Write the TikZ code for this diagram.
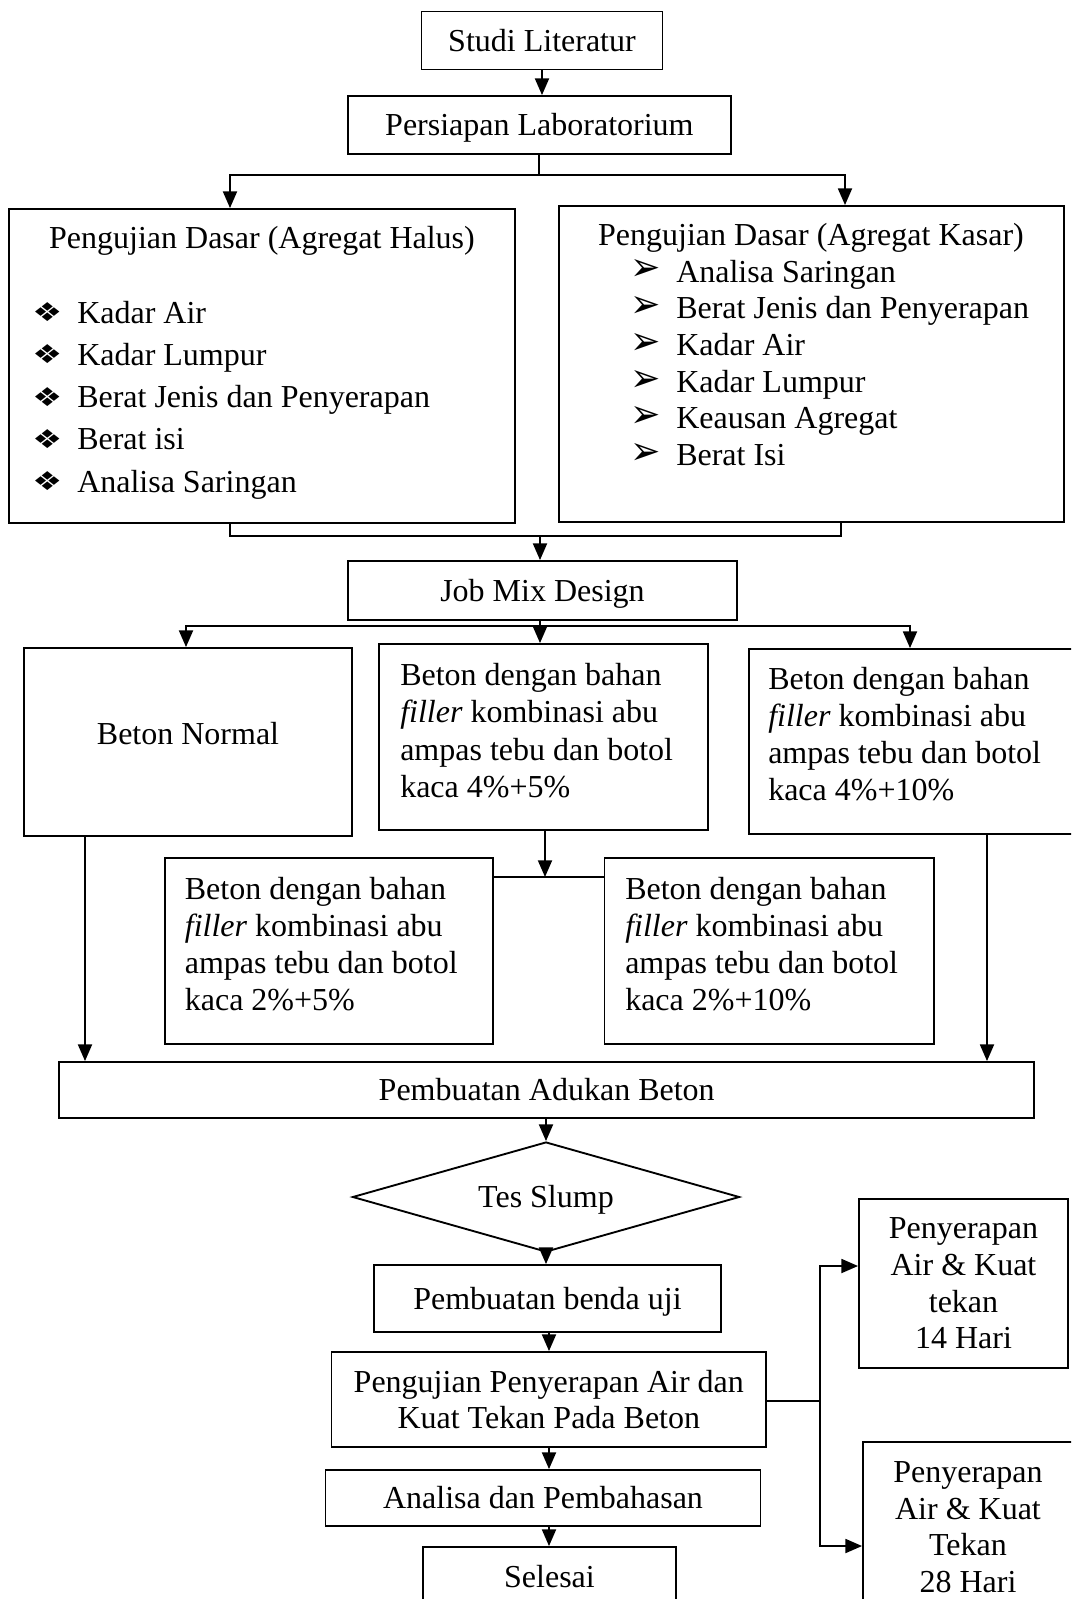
\documentclass[tikz,border=0pt]{standalone}
\usepackage{fontspec}
\setmainfont{Liberation Serif}
\newfontfamily\dejavu{DejaVu Sans}
\usetikzlibrary{shapes.geometric,arrows.meta,calc}
\setlength\lineskiplimit{-30pt}
\newcommand\bulA{\makebox[33.75pt][l]{\raisebox{1pt}{\scalebox{1}[0.78]{\dejavu\fontsize{25}{25}\selectfont ❖}}}}
\newcommand\bulB{\makebox[34.5pt][l]{\raisebox{0.8pt}{\scalebox{1.7}[1.85]{\dejavu\fontsize{16}{16}\selectfont ➢}}}}
\begin{document}
\begin{tikzpicture}[x=0.75pt,y=-0.75pt,
  every node/.style={font=\fontsize{24}{27.75}\selectfont, inner sep=0pt},
  bx/.style={draw, line width=1.4pt, rectangle, align=center},
  one/.style={text height=15.84pt, text depth=0pt},
  sz/.style 2 args={minimum width=#1*0.75pt, minimum height=#2*0.75pt},
  arr/.style={line width=1.4pt, -{Triangle[length=12.5pt,width=10.5pt]}},
  ln/.style={line width=1.4pt},
  multi/.style={align=left, anchor=west, font=\fontsize{24}{27.9}\selectfont}
]
\useasboundingbox (0,0) rectangle (1071,1599);
\clip (0,0) rectangle (1071,1599);

% top
\node[bx, one, sz={241}{58}] (studi) at (542,40.5) {Studi Literatur};
\node[bx, one, sz={383}{58}] (persiapan) at (539.4,125) {Persiapan Laboratorium};

% basic tests
\node[bx, sz={506}{314}] (halus) at (262,366) {};
\node[anchor=base] (halus-t) at (262,248) {Pengujian Dasar (Agregat Halus)};
\foreach \t [count=\i] in {Kadar Air, Kadar Lumpur, Berat Jenis dan Penyerapan, Berat isi, Analisa Saringan}
  \node[anchor=base west] (halus-\i) at (32,{323+(\i-1)*42.3}) {\bulA\t};

\node[bx, sz={505}{316}] (kasar) at (811.5,364) {};
\node[anchor=base] (kasar-t) at (811,245) {Pengujian Dasar (Agregat Kasar)};
\foreach \t [count=\i] in {Analisa Saringan, Berat Jenis dan Penyerapan, Kadar Air, Kadar Lumpur, Keausan Agregat, Berat Isi}
  \node[anchor=base west] (kasar-\i) at (630,{282+(\i-1)*36.7}) {\bulB\t};

\node[bx, one, sz={389}{59}] (jobmix) at (542.5,590.5) {Job Mix Design};

% variants
\node[bx, sz={328.5}{188}] (normal) at (188,742) {};
\node[one] (normal-t) at (188,734) {Beton Normal};

\node[bx, sz={329}{186}] (b45) at (543.5,737) {};
\node[multi] (b45-t) at (400,730.5) {Beton dengan bahan\\ \textit{filler} kombinasi abu\\ ampas tebu dan botol\\ kaca 4\%+5\%};

\node[bx, sz={329}{185}] (b410) at (913.1,741.5) {};
\node[multi] (b410-t) at (768,734) {Beton dengan bahan\\ \textit{filler} kombinasi abu\\ ampas tebu dan botol\\ kaca 4\%+10\%};

\node[bx, sz={328.4}{186}] (b25) at (328.8,951) {};
\node[multi] (b25-t) at (184.6,944) {Beton dengan bahan\\ \textit{filler} kombinasi abu\\ ampas tebu dan botol\\ kaca 2\%+5\%};

\node[bx, sz={329.5}{186}] (b210) at (769.3,951) {};
\node[multi] (b210-t) at (625,944) {Beton dengan bahan\\ \textit{filler} kombinasi abu\\ ampas tebu dan botol\\ kaca 2\%+10\%};

% lower chain
\node[bx, one, sz={974.6}{56}] (adukan) at (546.7,1090) {Pembuatan Adukan Beton};
\node[draw, one, line width=1.4pt, diamond, aspect=3.52, sz={387}{110}] (slump) at (546,1197) {Tes Slump};
\node[bx, one, sz={347}{67}] (benda) at (547.5,1298.5) {Pembuatan benda uji};
\node[bx, sz={434.5}{95}, font=\fontsize{24}{27}\selectfont] (pengujian) at (548.8,1399.5) {Pengujian Penyerapan Air dan\\ Kuat Tekan Pada Beton};
\node[bx, one, sz={435}{56}] (analisa) at (543,1498) {Analisa dan Pembahasan};
\node[bx, sz={253}{63}] (selesai) at (549.5,1578.5) {};
\node[one] (selesai-t) at (549.5,1577) {Selesai};

\node[bx, sz={209}{169}, font=\fontsize{24}{27.5}\selectfont] (h14) at (963.5,1283.5) {Penyerapan\\ Air \& Kuat\\ tekan\\ 14 Hari};
\node[bx, sz={210}{170}, font=\fontsize{24}{27.5}\selectfont] (h28) at (968,1527) {Penyerapan\\ Air \& Kuat\\ Tekan\\ 28 Hari};

% connectors
\draw[arr] (studi.south) -- (studi.south |- persiapan.north);
\coordinate (s1) at (539.4,175);
\draw[ln] (persiapan.south) -- (s1);
\draw[arr] (s1) -| (halus.north -| 230,0);
\draw[arr] (s1) -| (kasar.north -| 845,0);

\coordinate (b1) at (540,536);
\draw[ln] (halus.south -| 230,0) |- (b1) -| (kasar.south -| 841,0);
\draw[arr] (b1) -- (jobmix.north -| b1);

\coordinate (j1) at (540,626);
\draw[ln] (jobmix.south -| j1) -- (j1);
\draw[arr] (j1) -| (normal.north -| 186,0);
\draw[arr] (j1) -- (b45.north -| j1);
\draw[arr] (j1) -| (b410.north -| 910,0);

\draw[arr] (normal.south -| 85,0) -- (adukan.north -| 85,0);
\draw[arr] (b410.south -| 987,0) -- (adukan.north -| 987,0);

\coordinate (m1) at (545,877);
\draw[arr] (b45.south -| m1) -- (m1);
\draw[ln] (b25.east |- m1) -- (b210.west |- m1);

\draw[arr] (slump.north |- adukan.south) -- (slump.north);
\draw[arr] (slump.south) -- (slump.south |- benda.north);
\draw[arr] (benda.south -| 549,0) -- (pengujian.north -| 549,0);
\draw[arr] (pengujian.south -| 549,0) -- (analisa.north -| 549,0);
\draw[arr] (analisa.south -| 549,0) -- (selesai.north -| 549,0);

\coordinate (br) at (820,1401);
\draw[ln] (pengujian.east |- br) -- (br);
\draw[arr] (br) |- (h14.west |- 0,1266);
\draw[arr] (br) |- (h28.west |- 0,1546);
\end{tikzpicture}
\end{document}
